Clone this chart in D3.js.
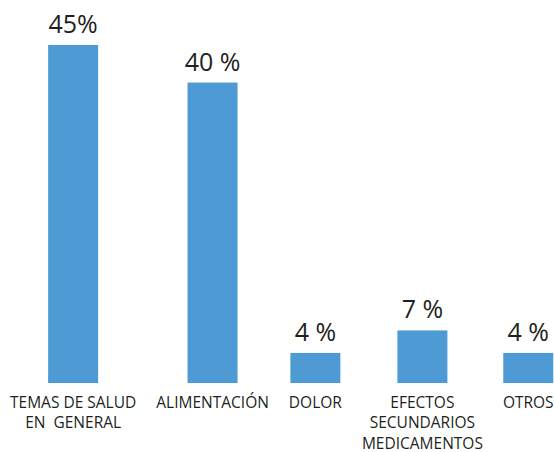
<!DOCTYPE html>
<html>
<head>
<meta charset="utf-8">
<script src="https://cdn.jsdelivr.net/npm/d3@7"></script>
<style>
  html, body { margin: 0; padding: 0; background: #fff; }
  svg { display: block; }
</style>
</head>
<body>
<div id="chart"></div>
<script>
// categorias (cada linea del rotulo separada con "|")
const categories = [
  "TEMAS DE SALUD|EN  GENERAL",
  "ALIMENTACIÓN",
  "DOLOR",
  "EFECTOS|SECUNDARIOS|MEDICAMENTOS",
  "OTROS"
];
const values = [45, 40, 4, 7, 4];
const valueLabels = ["45%", "40 %", "4 %", "7 %", "4 %"];

const width = 554;
const height = 452;
const baseline = 383;
const barWidth = 50;
const labelGap = 20;   // Abstand zwischen den Rotulos
const left = 10;

const svg = d3.select("#chart").append("svg")
  .attr("width", width)
  .attr("height", height);

const data = categories.map((c, i) => ({ cat: c, lines: c.split("|"), value: values[i], label: valueLabels[i] }));

// --- Category labels zuerst (Breite messen) ---
const catText = svg.append("g").selectAll("text")
  .data(data)
  .join("text")
  .attr("text-anchor", "middle")
  .attr("font-family", "'Open Sans', sans-serif")
  .attr("font-size", "15.5px")
  .attr("fill", "#231f20")
  .attr("y", baseline + 25)
  .style("white-space", "pre");

catText.selectAll("tspan")
  .data(d => d.lines)
  .join("tspan")
  .attr("dy", (d, i) => i === 0 ? 0 : 20.3)
  .text(d => d);

// Breite pro Kategorie = laengste Zeile
catText.each(function(d) {
  d.w = d3.max(d3.select(this).selectAll("tspan").nodes(), n => n.getComputedTextLength());
});

// Mitten: Rotulos nebeneinander mit festem Abstand
let cursor = left;
data.forEach(d => {
  d.cx = cursor + d.w / 2;
  cursor += d.w + labelGap;
});

const x = d3.scaleOrdinal()
  .domain(categories)
  .range(data.map(d => d.cx));

const y = d3.scaleLinear()
  .domain([0, 45])
  .range([baseline, 45]);

catText.selectAll("tspan").attr("x", function() {
  return x(d3.select(this.parentNode).datum().cat);
});

// --- Bars ---
svg.insert("g", ":first-child").selectAll("rect")
  .data(data)
  .join("rect")
  .attr("x", d => x(d.cat) - barWidth / 2)
  .attr("width", barWidth)
  .attr("y", d => y(d.value))
  .attr("height", d => y(0) - y(d.value))
  .attr("fill", "#4e9ad4");

// --- Value labels ---
svg.append("g").selectAll("text")
  .data(data)
  .join("text")
  .attr("x", d => x(d.cat))
  .attr("y", d => y(d.value) - 12)
  .attr("text-anchor", "middle")
  .attr("font-family", "'Open Sans', sans-serif")
  .attr("font-size", "25px")
  .attr("fill", "#231f20")
  .style("white-space", "pre")
  .text(d => d.label);
</script>
</body>
</html>
